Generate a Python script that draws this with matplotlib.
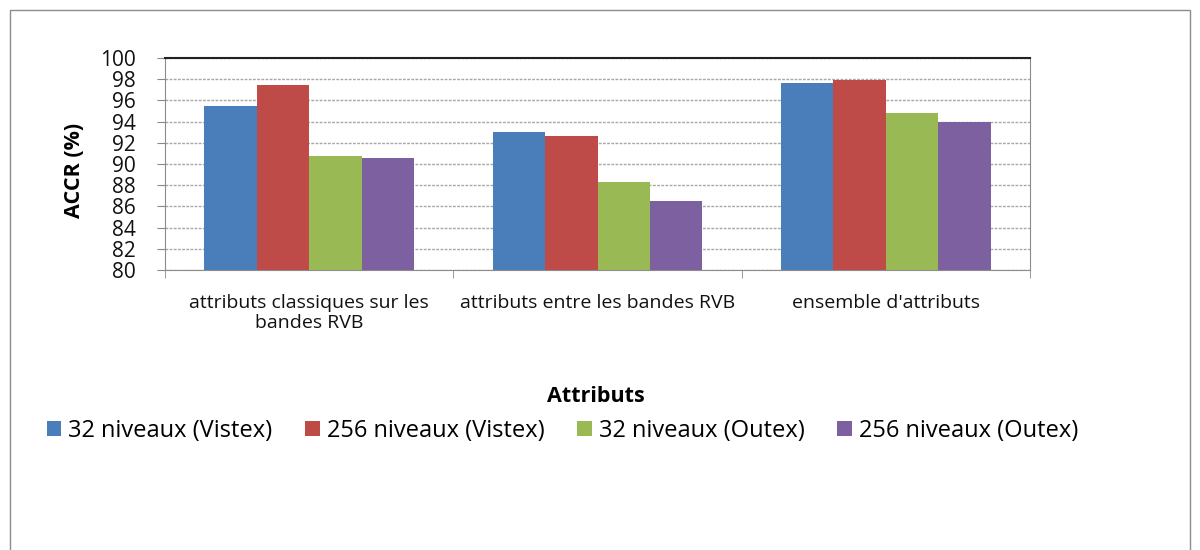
import matplotlib
matplotlib.use("Agg")
import matplotlib.pyplot as plt
import numpy as np
from matplotlib.patches import Rectangle

categories = ["attributs classiques sur les\nbandes RVB",
              "attributs entre les bandes RVB",
              "ensemble d'attributs"]
series_names = ["32 niveaux (Vistex)", "256 niveaux (Vistex)",
                "32 niveaux (Outex)", "256 niveaux (Outex)"]
v32_vistex = [95.5, 93.0, 97.6]
v256_vistex = [97.5, 92.6, 97.9]
v32_outex = [90.8, 88.3, 94.8]
v256_outex = [90.6, 86.5, 94.0]
series = [v32_vistex, v256_vistex, v32_outex, v256_outex]
colors = ["#4a7ebb", "#be4b48", "#98b954", "#7d60a0"]
yticks = list(range(80, 101, 2))

fam = ["Open Sans", "DejaVu Sans"]

W, H = 1200, 550
fig = plt.figure(figsize=(12, 5.5), dpi=100)
ax = fig.add_axes([165 / W, 1 - 270 / H, (1030 - 165) / W, (270 - 58) / H])

x = np.arange(len(categories))
bw = 0.182
for i, (vals, c) in enumerate(zip(series, colors)):
    ax.bar(x + (i - 1.5) * bw, vals, width=bw, color=c, label=series_names[i],
           zorder=3, linewidth=0)

ax.set_xlim(-0.5, len(categories) - 0.5)
ax.set_ylim(80, 100)
ax.set_yticks(yticks)
ax.set_yticklabels([str(t) for t in yticks], fontsize=15, family=fam, color="#111111")
ax.tick_params(axis="y", length=6, color="#888888", pad=15)
ax.yaxis.grid(True, color="#a8a8a8", linewidth=1.0, linestyle=(0, (2, 1)), zorder=0)
ax.set_axisbelow(True)

ax.set_xticks(x)
ax.set_xticklabels(categories, fontsize=14, family=fam, linespacing=1.15, color="#111111")
ax.tick_params(axis="x", length=0, pad=17)
# category separators
ax.set_xticks(np.arange(-0.5, len(categories), 1.0), minor=True)
ax.tick_params(axis="x", which="minor", length=6, color="#888888")

for s in ["left", "bottom", "right"]:
    ax.spines[s].set_color("#8c8c8c")
ax.spines["top"].set_color("#222222")
ax.spines["top"].set_linewidth(1.5)

fig.text(75 / W, 1 - 170 / H, "ACCR (%)", fontsize=15.5, fontweight="bold",
         family=fam, rotation=90, ha="center", va="center")

fig.text(596 / W, 1 - 397 / H, "Attributs", fontsize=15.5, fontweight="bold",
         family=fam, ha="center", va="center")

leg = fig.legend(loc="center left", bbox_to_anchor=(47 / W, 1 - 431 / H), ncol=4,
                 frameon=False, prop={"family": fam, "size": 17},
                 handlelength=0.6, handleheight=0.6, handletextpad=0.3,
                 columnspacing=1.4, borderaxespad=0, borderpad=0)

fig.patches.append(Rectangle((10 / W, -0.05), (1190 - 10) / W, 1 - 10 / H + 0.05,
                             transform=fig.transFigure, fill=False,
                             edgecolor="#8c8c8c", linewidth=1.0))

fig.savefig("out.png", dpi=100)
